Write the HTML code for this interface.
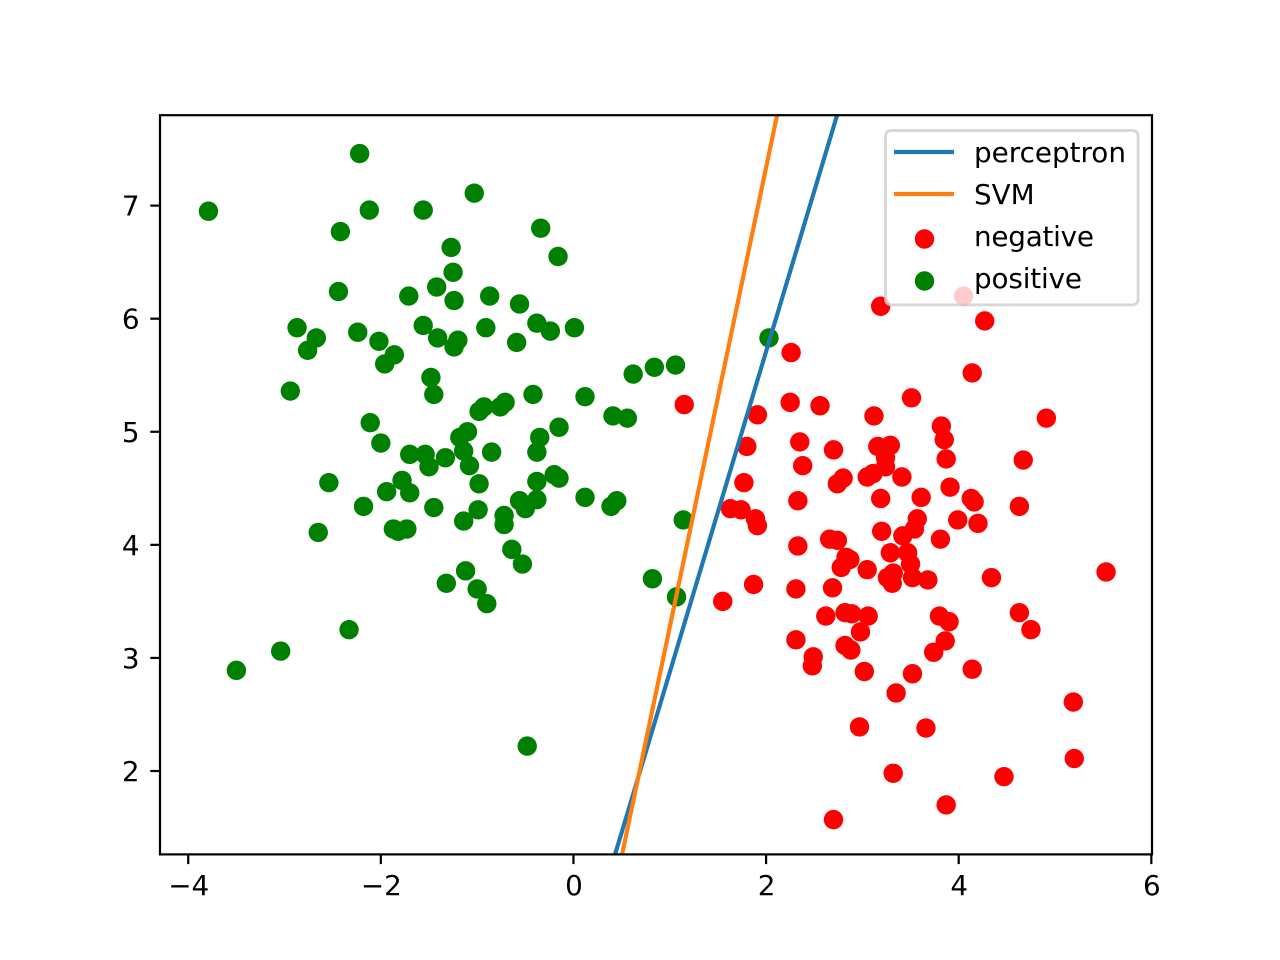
<!DOCTYPE html>
<html>
<head>
<meta charset="utf-8">
<title>Perceptron vs SVM decision boundaries</title>
<style>
html,body{margin:0;padding:0;background:#fff;}
svg{display:block;}
text{font-family:"DejaVu Sans","Liberation Sans",sans-serif;font-size:27.8px;fill:#000;}
</style>
</head>
<body>
<svg id="chart" xmlns="http://www.w3.org/2000/svg" width="1280" height="960" viewBox="0 0 1280 960">
<rect width="1280" height="960" fill="#fff"/>
<defs><clipPath id="plot-clip"><rect x="160" y="115.2" width="992" height="739.2"/></clipPath></defs>
<g id="negative-points" fill="#ff0000"></g>
<g id="positive-points" fill="#008000"></g>
<g id="boundaries" clip-path="url(#plot-clip)" fill="none" stroke-width="4.17"></g>
<rect x="160" y="115.2" width="992" height="739.2" fill="none" stroke="#000" stroke-width="2.2"/>
<g id="x-axis"></g>
<g id="y-axis"></g>
<g>
<rect x="885.5" y="130.5" width="252.6" height="174.4" rx="5.5" fill="#fff" fill-opacity="0.8" stroke="#ccc" stroke-opacity="0.8" stroke-width="2.8"/>
<line x1="894" y1="152" x2="954" y2="152" stroke="#1f77b4" stroke-width="4.17"/>
<text x="974" y="162">perceptron</text>
<line x1="894" y1="194" x2="954" y2="194" stroke="#ff7f0e" stroke-width="4.17"/>
<text x="974" y="204">SVM</text>
<circle cx="924.5" cy="239" r="9.7" fill="#ff0000"/>
<text x="974" y="246" textLength="120">negative</text>
<circle cx="924.5" cy="281" r="9.7" fill="#008000"/>
<text x="974" y="288" textLength="108">positive</text>
</g>
</svg>
<script>
const xTicks = [-4, -2, 0, 2, 4, 6];
const yTicks = [2, 3, 4, 5, 6, 7];
const xLimits = [-4.293, 6.007];
const yLimits = [1.2625, 7.7995];
const perceptronX = [0.432, 2.737];
const perceptronY = [1.2625, 7.7995];
const svmX = [0.505, 2.114];
const svmY = [1.2625, 7.7995];
const positiveX = [-3.79,-2.22,-2.12,-1.56,-1.03,-2.42,-0.34,-1.27,-0.16,-1.25,-2.44,-1.42,-1.71,-1.24,-0.87,-0.56,-2.87,-2.67,-1.56,-2.24,-0.91,-0.38,0.01,-0.24,-1.41,-1.20,-1.24,-2.02,-2.76,-1.86,-1.96,-0.59,-1.48,-2.94,-1.45,-0.42,0.12,-0.71,-0.76,-0.93,-0.98,0.41,0.56,-2.11,-0.15,-1.10,-1.18,-0.35,-2.00,-1.70,-1.54,-1.33,-1.14,-0.85,-0.38,-1.08,-1.50,-0.20,-0.15,-2.54,-1.78,-0.38,-0.98,-1.94,-1.70,0.12,-0.56,-0.38,0.45,0.39,-0.50,-2.18,-1.45,-0.72,-0.99,-1.14,-0.72,1.14,-1.87,-1.82,-1.73,-2.65,-0.64,-0.53,-1.12,-1.32,0.82,-1.00,1.07,-0.90,-2.33,-3.04,-3.50,-0.48,2.03,0.62,0.84,1.06];
const positiveY = [6.95,7.46,6.96,6.96,7.11,6.77,6.80,6.63,6.55,6.41,6.24,6.28,6.20,6.16,6.20,6.13,5.92,5.83,5.94,5.88,5.92,5.96,5.92,5.89,5.83,5.81,5.75,5.80,5.72,5.68,5.60,5.79,5.48,5.36,5.33,5.33,5.31,5.26,5.22,5.22,5.18,5.14,5.12,5.08,5.04,5.00,4.95,4.95,4.90,4.80,4.80,4.77,4.83,4.82,4.82,4.70,4.69,4.62,4.59,4.55,4.57,4.56,4.54,4.47,4.46,4.42,4.39,4.40,4.39,4.34,4.32,4.34,4.33,4.26,4.31,4.21,4.18,4.22,4.14,4.12,4.14,4.11,3.96,3.83,3.77,3.66,3.70,3.61,3.54,3.48,3.25,3.06,2.89,2.22,5.83,5.51,5.57,5.59];
const negativeX = [3.19,4.05,4.27,4.14,2.26,1.15,3.51,2.25,2.56,1.91,3.12,4.91,3.82,3.85,2.35,3.16,3.29,1.80,2.70,3.87,3.24,4.67,2.38,3.24,3.11,3.05,2.80,3.41,1.77,2.74,3.91,3.61,3.19,4.13,4.16,2.33,4.63,1.63,1.74,1.89,3.57,3.99,4.20,1.91,3.54,3.20,3.42,2.66,2.74,3.81,2.33,3.29,3.47,2.83,2.87,3.50,2.78,3.05,3.32,4.34,3.26,3.52,3.68,3.31,1.87,2.69,2.31,1.55,4.63,3.80,2.82,2.89,3.06,2.62,3.90,4.75,2.98,2.31,3.86,2.82,2.88,3.74,2.49,2.48,4.14,3.02,3.52,3.35,5.19,2.97,3.66,5.20,3.32,4.47,3.87,2.70,5.53];
const negativeY = [6.11,6.20,5.98,5.52,5.70,5.24,5.30,5.26,5.23,5.15,5.14,5.12,5.05,4.93,4.91,4.87,4.88,4.87,4.84,4.76,4.77,4.75,4.70,4.69,4.63,4.60,4.59,4.60,4.55,4.54,4.51,4.42,4.41,4.41,4.38,4.39,4.34,4.32,4.31,4.23,4.23,4.22,4.19,4.17,4.14,4.12,4.08,4.05,4.04,4.05,3.99,3.93,3.93,3.89,3.87,3.83,3.80,3.78,3.75,3.71,3.71,3.71,3.69,3.66,3.65,3.62,3.61,3.50,3.40,3.37,3.40,3.39,3.37,3.37,3.32,3.25,3.23,3.16,3.15,3.11,3.07,3.05,3.01,2.93,2.90,2.88,2.86,2.69,2.61,2.39,2.38,2.11,1.98,1.95,1.70,1.57,3.76];

const NS = 'http://www.w3.org/2000/svg';
const plotLeft = 160, plotRight = 1152, plotTop = 115.2, plotBottom = 854.4;
function xScale(v) { return plotLeft + (v - xLimits[0]) / (xLimits[1] - xLimits[0]) * (plotRight - plotLeft); }
function yScale(v) { return plotBottom - (v - yLimits[0]) / (yLimits[1] - yLimits[0]) * (plotBottom - plotTop); }
function make(tag, attrs, parent) {
  const el = document.createElementNS(NS, tag);
  Object.keys(attrs).forEach(function (k) { el.setAttribute(k, attrs[k]); });
  parent.appendChild(el);
  return el;
}
function drawPoints(groupId, xs, ys, pointName) {
  const group = document.getElementById(groupId);
  xs.forEach(function (x, i) {
    const c = make('circle', { cx: xScale(x), cy: yScale(ys[i]), r: 9.7 }, group);
    
    
  });
}
drawPoints('negative-points', negativeX, negativeY, 'negative-point');
drawPoints('positive-points', positiveX, positiveY, 'positive-point');

const boundaries = document.getElementById('boundaries');
function drawLine(xs, ys, color, lineName) {
  const pts = xs.map(function (x, i) { return xScale(x) + ',' + yScale(ys[i]); }).join(' ');
  const l = make('polyline', { points: pts, stroke: color }, boundaries);
  
  
}
drawLine(perceptronX, perceptronY, '#1f77b4', 'perceptron-line');
drawLine(svmX, svmY, '#ff7f0e', 'svm-line');

const xAxis = document.getElementById('x-axis');
xTicks.forEach(function (t) {
  const px = xScale(t);
  const mark = make('line', { x1: px, x2: px, y1: plotBottom, y2: plotBottom + 9.7, stroke: '#000', 'stroke-width': 2.2 }, xAxis);
  
  
  const label = make('text', { x: px + 0.5, y: 895, 'text-anchor': 'middle' }, xAxis);
  
  
  label.textContent = String(t).replace('-', '\u2212');
});
const yAxis = document.getElementById('y-axis');
yTicks.forEach(function (t) {
  const py = yScale(t);
  const mark = make('line', { x1: plotLeft - 9.7, x2: plotLeft, y1: py, y2: py, stroke: '#000', 'stroke-width': 2.2 }, yAxis);
  
  
  const label = make('text', { x: 139.5, y: py + 10, 'text-anchor': 'end' }, yAxis);
  
  
  label.textContent = String(t);
});
</script>
</body>
</html>
